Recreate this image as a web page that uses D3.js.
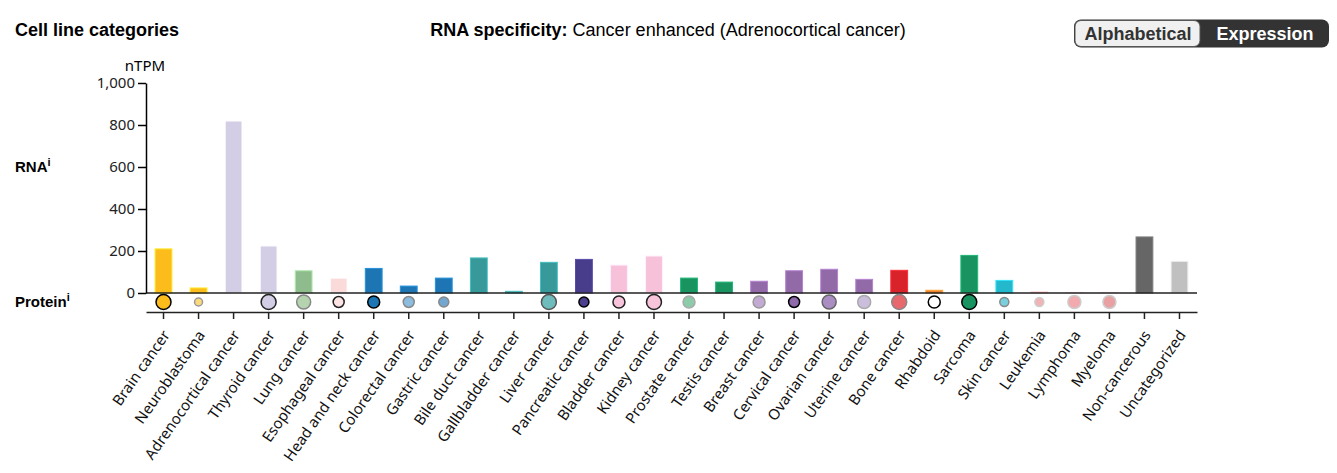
<!DOCTYPE html>
<html>
<head>
<meta charset="utf-8">
<script src="https://cdn.jsdelivr.net/npm/d3@7"></script>
<style>
  body { margin: 0; background: #fff; }
  .tick text { font-family: "Noto Sans", "Open Sans", sans-serif; }
</style>
</head>
<body>
<div id="chart"></div>
<script>
const w = 1337;
const h = 473;

const categories = ["Brain cancer", "Neuroblastoma", "Adrenocortical cancer", "Thyroid cancer", "Lung cancer",
  "Esophageal cancer", "Head and neck cancer", "Colorectal cancer", "Gastric cancer", "Bile duct cancer",
  "Gallbladder cancer", "Liver cancer", "Pancreatic cancer", "Bladder cancer", "Kidney cancer",
  "Prostate cancer", "Testis cancer", "Breast cancer", "Cervical cancer", "Ovarian cancer",
  "Uterine cancer", "Bone cancer", "Rhabdoid", "Sarcoma", "Skin cancer", "Leukemia", "Lymphoma",
  "Myeloma", "Non-cancerous", "Uncategorized"];

const rnaValues = [210, 24, 819, 224, 106, 71, 117, 33, 71, 167, 8, 146, 160, 133, 176,
  71, 52, 56, 106, 113, 65, 108, 13, 179, 60, 5, 3, 3, 267, 151];

const barColors = ["#fbbc1c", "#fbbc1c", "#d3cde5", "#d3cde5", "#8fbc8d", "#fbdada", "#1d76b3", "#1d76b3",
  "#1d76b3", "#37999a", "#37999a", "#37999a", "#473d8a", "#f6c1d9", "#f6c1d9", "#199461", "#199461",
  "#926aa8", "#926aa8", "#926aa8", "#926aa8", "#d8232a", "#ea812c", "#199461", "#24b8cc", "#e8a0a8",
  "#f2b5b8", "#f2b5b8", "#666666", "#c0c0c0"];

// protein circles: radius (0 = none), fill, stroke
const proteinRadius = [7.5, 4, 0, 7.5, 7, 5.5, 6, 5.5, 5, 0, 0, 7.5, 5, 6, 7.5, 6, 0, 6, 5.5, 7, 6.5, 7.5, 6, 7.5, 4.5, 4.5, 6.5, 6.5, 0, 0];
const proteinFill = ["#fbbc1c", "#fbd97c", "none", "#d3cde5", "#b4d3ae", "#fde3e3", "#1d76b3", "#8cbde0",
  "#74a7cf", "none", "none", "#6fbcbc", "#4b3f8e", "#f8c4dc", "#f8c4dc", "#8dcbab", "none", "#c2aad2",
  "#8e6aab", "#aa8dc3", "#cabedc", "#e8696d", "#ffffff", "#199461", "#7acfdd", "#f0b3b6", "#f2aaae",
  "#e8a0a2", "none", "none"];
const proteinStroke = ["#000", "#999", "none", "#222", "#888", "#222", "#000", "#888", "#888", "none", "none",
  "#555", "#000", "#222", "#222", "#aaa", "none", "#999", "#000", "#666", "#aaa", "#888", "#000", "#000",
  "#888", "#ccc", "#ccc", "#ccc", "none", "none"];

const yTicks = [0, 200, 400, 600, 800, 1000];

const left = 146, right = 1197, yTop = 83, yBase = 293, xAxisY = 312, protY = 302;

const x = d3.scaleBand().domain(categories).range([left, right]).paddingInner(0.52).paddingOuter(0.26);
const y = d3.scaleLinear().domain([0, 1000]).range([yBase, yTop]);

const svg = d3.select("#chart").append("svg").attr("width", w).attr("height", h);

// headers
svg.append("text").attr("x", 15).attr("y", 36)
  .style("font-family", "Liberation Sans, Arial, sans-serif").style("font-size", "18px").style("font-weight", "bold")
  .text("Cell line categories");

const sub = svg.append("text").attr("x", 668).attr("y", 36).attr("text-anchor", "middle")
  .style("font-family", "Liberation Sans, Arial, sans-serif").style("font-size", "18px");
sub.append("tspan").style("font-weight", "bold").text("RNA specificity: ");
sub.append("tspan").text("Cancer enhanced (Adrenocortical cancer)");

// toggle
const tg = svg.append("g").style("font-family", "Liberation Sans, Arial, sans-serif")
  .style("font-size", "18px").style("font-weight", "bold");
tg.append("rect").attr("x", 1074).attr("y", 19.5).attr("width", 255).attr("height", 28).attr("rx", 7).attr("fill", "#333");
tg.append("rect").attr("x", 1075).attr("y", 20.5).attr("width", 125).attr("height", 26).attr("rx", 6)
  .attr("fill", "#f0f0f0").attr("stroke", "#555");
tg.append("text").attr("x", 1138).attr("y", 40).attr("text-anchor", "middle").attr("fill", "#333").text("Alphabetical");
tg.append("text").attr("x", 1265).attr("y", 40).attr("text-anchor", "middle").attr("fill", "#fff").text("Expression");

// side labels
const rl = svg.append("text").attr("x", 15).attr("y", 172)
  .style("font-family", "Liberation Sans, Arial, sans-serif").style("font-size", "15px").style("font-weight", "bold");
rl.append("tspan").text("RNA");
rl.append("tspan").attr("dy", -6).style("font-size", "11px").text("i");

const pl = svg.append("text").attr("x", 15).attr("y", 307)
  .style("font-family", "Liberation Sans, Arial, sans-serif").style("font-size", "15px").style("font-weight", "bold");
pl.append("tspan").text("Protein");
pl.append("tspan").attr("dy", -6).style("font-size", "11px").text("i");

svg.append("text").attr("x", 145).attr("y", 71).attr("text-anchor", "middle")
  .style("font-family", "Noto Sans, Open Sans, sans-serif").style("font-size", "15px").text("nTPM");

// bars
svg.selectAll("rect.bar").data(categories).enter().append("rect")
  .attr("class", "bar")
  .attr("x", d => x(d))
  .attr("y", (d, i) => y(rnaValues[i]))
  .attr("width", x.bandwidth())
  .attr("height", (d, i) => yBase - y(rnaValues[i]))
  .attr("fill", (d, i) => barColors[i])
  .attr("stroke", (d, i) => d3.color(barColors[i]).brighter(0.6))
  .attr("stroke-width", 1);

// baseline line
svg.append("line").attr("x1", left).attr("x2", right).attr("y1", yBase).attr("y2", yBase)
  .attr("stroke", "#222").attr("stroke-width", 1.5);

// y axis
const yAxis = svg.append("g")
  .attr("transform", "translate(" + left + ",0)")
  .call(d3.axisLeft(y).tickValues(yTicks).tickFormat(d3.format(",")).tickSize(8).tickSizeOuter(0));
yAxis.selectAll("path, line").attr("stroke", "#000").attr("stroke-width", 1.5);
yAxis.selectAll("text").style("font-size", "15px").attr("fill", "#222");

// protein circles
svg.selectAll("circle.prot").data(categories).enter().append("circle")
  .attr("class", "prot")
  .attr("cx", d => x(d) + x.bandwidth() / 2)
  .attr("cy", protY)
  .attr("r", (d, i) => proteinRadius[i])
  .attr("fill", (d, i) => proteinFill[i])
  .attr("stroke", (d, i) => proteinStroke[i])
  .attr("stroke-width", 1.5);

// x axis
const xAxis = svg.append("g")
  .attr("transform", "translate(0," + xAxisY + ")")
  .call(d3.axisBottom(x).tickSize(7).tickSizeOuter(0));
xAxis.selectAll("path, line").attr("stroke", "#222").attr("stroke-width", 1.5);
xAxis.selectAll("text")
  .style("font-size", "15px").attr("fill", "#111")
  .attr("text-anchor", "end")
  .attr("x", 0).attr("y", 0).attr("dy", 0)
  .attr("transform", "translate(7,23) rotate(-55)");
</script>
</body>
</html>
